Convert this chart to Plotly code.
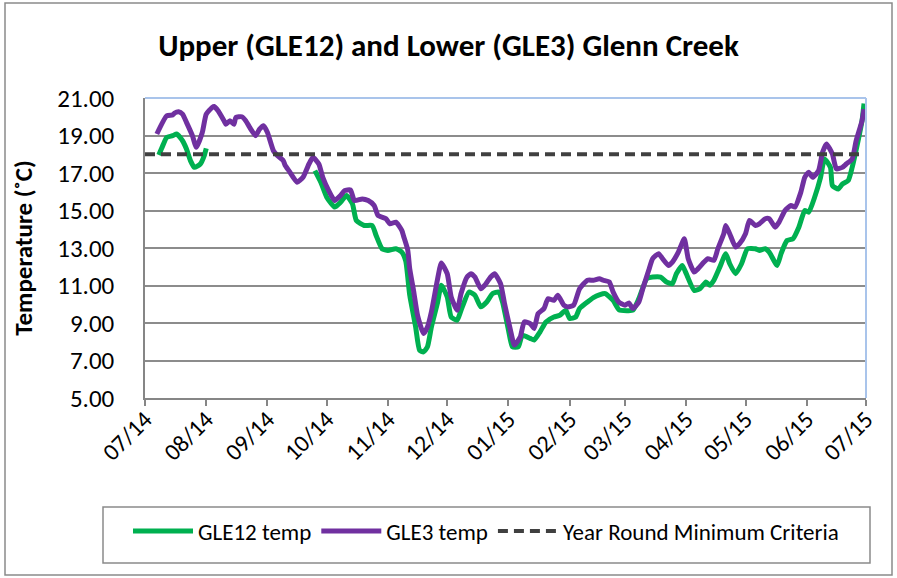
import pandas as pd
import plotly.graph_objects as go

# ---------------- data ----------------
start_date = "2014-07-01"
end_date = "2015-07-01"

# days since 2014-07-01
gle3_day = [6, 11, 14, 15, 17, 19, 21, 24, 26, 29, 31, 34, 35, 37, 40, 41, 43, 45, 46, 49,
            51, 53, 56, 58, 60, 62, 65, 67, 70, 71, 73, 77, 80, 83, 85, 88, 90, 93, 96, 99,
            101, 104, 106, 110, 113, 116, 118, 122, 124, 127, 130, 131, 133, 134, 136, 138,
            141, 143, 145, 148, 150, 153, 155, 158, 160, 163, 165, 167, 170, 172, 175, 177,
            180, 182, 185, 187, 190, 192, 195, 197, 199, 202, 204, 207, 209, 212, 214, 217,
            220, 224, 227, 230, 232, 235, 237, 240, 243, 245, 247, 250, 252, 255, 257, 260,
            262, 265, 267, 270, 273, 275, 278, 280, 283, 285, 288, 290, 293, 294, 296, 299,
            301, 304, 306, 309, 311, 314, 316, 319, 321, 324, 327, 329, 332, 334, 336, 338,
            341, 343, 345, 348, 350, 353, 355, 358, 360, 363, 364]
gle3_temp = [19.08, 20.05, 20.09, 20.2, 20.27, 20.14, 19.7, 18.99, 18.37, 19.16, 20.14, 20.5,
             20.55, 20.32, 19.79, 19.6, 19.79, 19.6, 19.96, 20.0, 19.79, 19.43, 18.99, 19.34,
             19.52, 19.16, 18.19, 17.93, 17.66, 17.4, 17.1, 16.51, 16.77, 17.48, 17.84, 17.48,
             16.77, 16.06, 15.53, 15.8, 16.06, 16.1, 15.53, 15.62, 15.53, 15.27, 14.73, 14.56,
             14.29, 14.38, 13.94, 13.6, 12.9, 11.9, 10.7, 9.4, 8.44, 8.79, 9.6, 11.28, 12.2,
             11.63, 10.39, 9.68, 10.57, 11.45, 11.63, 11.45, 10.83, 11.01, 11.45, 11.63, 11.1,
             10.04, 8.62, 7.82, 8.26, 9.06, 8.97, 8.71, 9.5, 9.77, 10.3, 10.21, 10.48, 9.95,
             9.86, 9.95, 10.83, 11.28, 11.28, 11.36, 11.28, 11.19, 10.65, 10.1, 9.95, 10.07,
             9.77, 10.12, 10.83, 11.81, 12.43, 12.7, 12.43, 12.07, 12.25, 12.78, 13.49, 12.43,
             11.72, 11.9, 12.25, 12.43, 12.34, 12.96, 13.76, 14.2, 13.76, 13.05, 13.23, 13.76,
             14.47, 14.2, 14.29, 14.56, 14.56, 14.11, 14.38, 15.0, 15.27, 15.18, 15.97, 16.77,
             17.04, 16.77, 17.13, 18.1, 18.55, 18.01, 17.22, 17.3, 17.48, 17.75, 18.72, 19.79,
             20.4]

gle12_day = [7, 9, 11, 14, 16, 19, 21, 23, 25, 28, 30, 31, 60, 86, 89, 92, 96, 99, 102, 105,
             107, 111, 115, 117, 120, 123, 127, 130, 132, 134, 137, 139, 141, 143, 145, 148,
             150, 153, 155, 158, 160, 164, 167, 170, 173, 176, 179, 181, 184, 186, 189, 191,
             195, 197, 200, 203, 207, 210, 213, 215, 218, 220, 224, 227, 230, 233, 237, 240,
             244, 247, 250, 254, 257, 261, 264, 267, 269, 272, 274, 278, 281, 284, 286, 288,
             291, 294, 296, 299, 302, 305, 309, 311, 314, 316, 320, 322, 325, 328, 331, 334,
             336, 339, 342, 344, 347, 348, 351, 353, 356, 358, 361, 363, 364]
gle12_temp = [17.96, 18.46, 18.9, 18.99, 19.08, 18.72, 18.28, 17.66, 17.3, 17.48, 17.93, 18.31,
              None, 17.13, 16.51, 15.71, 15.18, 15.44, 15.8, 15.36, 14.47, 14.2, 14.2, 13.67,
              12.96, 12.87, 12.96, 12.78, 12.3, 10.5, 8.8, 7.55, 7.46, 7.73, 8.79, 10.04, 11.01,
              10.39, 9.32, 9.15, 9.68, 10.65, 10.48, 9.86, 10.12, 10.57, 10.65, 10.12, 8.62,
              7.73, 7.73, 8.35, 8.18, 8.09, 8.53, 9.06, 9.32, 9.41, 9.68, 9.24, 9.32, 9.77,
              10.12, 10.35, 10.5, 10.57, 10.2, 9.7, 9.66, 9.68, 10.3, 11.36, 11.45, 11.45,
              11.19, 11.1, 11.63, 12.07, 11.63, 10.74, 10.83, 11.19, 11.01, 11.28, 11.98, 12.7,
              12.16, 11.63, 12.16, 12.96, 12.96, 12.87, 12.96, 12.78, 12.07, 12.7, 13.4, 13.49,
              14.11, 15.0, 14.91, 15.71, 16.77, 17.75, 17.3, 16.33, 16.15, 16.41, 16.6, 17.3,
              18.72, 19.79, 20.7]

criteria_dates = [start_date, end_date]
criteria_temp = [18.0, 18.0]

series_names = ["GLE12 temp", "GLE3 temp", "Year Round Minimum Criteria"]
title_text = "Upper (GLE12) and Lower (GLE3) Glenn Creek"
y_title = "Temperature (˚C)"
y_ticks = [5, 7, 9, 11, 13, 15, 17, 19, 21]

# ---------------- figure ----------------
t0 = pd.Timestamp(start_date)
gle3_x = [t0 + pd.Timedelta(days=d) for d in gle3_day]
gle12_x = [t0 + pd.Timedelta(days=d) for d in gle12_day]

FONT = "Carlito, Calibri, Lato, sans-serif"
GREEN = "#00B050"
PURPLE = "#7030A0"
GRID = "#8c8c8c"
AXIS = "#868686"

fig = go.Figure()
fig.add_trace(go.Scatter(x=gle12_x, y=gle12_temp, name=series_names[0], mode="lines",
                         line=dict(color=GREEN, width=5, shape="spline", smoothing=0.5),
                         connectgaps=False))
fig.add_trace(go.Scatter(x=gle3_x, y=gle3_temp, name=series_names[1], mode="lines",
                         line=dict(color=PURPLE, width=5, shape="spline", smoothing=0.5)))
fig.add_trace(go.Scatter(x=criteria_dates, y=criteria_temp, name=series_names[2], mode="lines",
                         line=dict(color="#404040", width=4, dash="10px,6px")))

W, H = 897, 578
L, R, T, B = 145, 31, 98, 180
pw, ph = W - L - R, H - T - B


def px_x(p):
    return (p - L) / pw


def px_y(p):
    return (H - B - p) / ph


fig.update_layout(
    width=W, height=H,
    margin=dict(l=L, r=R, t=T, b=B, autoexpand=False),
    paper_bgcolor="white", plot_bgcolor="white",
    font=dict(family=FONT, color="black", size=23),
    title=dict(text="<b>" + title_text + "</b>", x=0.5, xanchor="center",
               y=1 - 45 / H, yanchor="middle", font=dict(size=31, family=FONT)),
    showlegend=True,
    legend=dict(orientation="h", x=px_x(486), xanchor="center", y=px_y(531), yanchor="middle",
                font=dict(size=23, family=FONT), bgcolor="rgba(0,0,0,0)", borderwidth=0,
                itemwidth=60, tracegroupgap=0),
    xaxis=dict(type="date", range=[start_date, end_date], tick0=start_date, dtick="M1",
               tickformat="%m/%y", tickangle=-45, ticks="outside", ticklen=6,
               tickcolor=AXIS, tickwidth=1.5, showgrid=False, showline=True,
               linecolor=AXIS, linewidth=1.5, tickfont=dict(size=24, family=FONT),
               ticklabelstandoff=-10, zeroline=False),
    yaxis=dict(range=[5, 21], tickvals=y_ticks, tickformat=".2f", ticks="",
               showgrid=True, gridcolor=GRID, gridwidth=1.5, showline=True,
               linecolor=AXIS, linewidth=1.5, zeroline=False,
               tickfont=dict(size=25, family=FONT), ticklabelstandoff=24,
               title=dict(text="<b>" + y_title + "</b>", font=dict(size=25, family=FONT),
                          standoff=18)),
    shapes=[
        # chart outer border
        dict(type="rect", xref="paper", yref="paper", x0=px_x(5), x1=px_x(892),
             y0=px_y(575), y1=px_y(3), line=dict(color="#8a8a8a", width=1.5), layer="below"),
        # legend box
        dict(type="rect", xref="paper", yref="paper", x0=px_x(103), x1=px_x(870),
             y0=px_y(563), y1=px_y(507), line=dict(color="#8a8a8a", width=1.5), layer="below"),
        # top / right plot border (light blue)
        dict(type="line", xref="paper", yref="paper", x0=0, x1=1, y0=1, y1=1,
             line=dict(color="#a9c4eb", width=2)),
        dict(type="line", xref="paper", yref="paper", x0=1, x1=1, y0=0, y1=1,
             line=dict(color="#a9c4eb", width=2)),
    ],
)

fig.write_html("out.html", config={"displayModeBar": False},
               post_script="document.body.style.margin='0';document.body.style.overflow='hidden';")
